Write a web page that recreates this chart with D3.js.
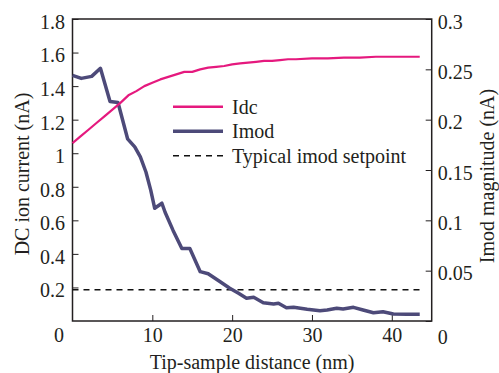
<!DOCTYPE html>
<html>
<head>
<meta charset="utf-8">
<script src="https://cdn.jsdelivr.net/npm/d3@7"></script>
<style>
  body { margin: 0; background: #fff; }
  text { font-family: "Liberation Serif", "Times New Roman", serif; fill: #231f20; }
</style>
</head>
<body>
<div id="chart"></div>
<script>
// --- DATA ---
const idcX   = [0, 1, 2, 3, 4, 5, 6, 7, 8, 9, 10, 11, 12, 13, 14, 15, 16, 17, 18, 19, 20, 21, 22, 23, 24, 25, 26, 27, 28, 30, 32, 34, 36, 38, 40, 42, 43.5];
const idcVal = [1.06, 1.10, 1.14, 1.18, 1.22, 1.26, 1.30, 1.345, 1.37, 1.40, 1.42, 1.44, 1.455, 1.47, 1.485, 1.485, 1.50, 1.51, 1.515, 1.52, 1.53, 1.535, 1.54, 1.545, 1.55, 1.55, 1.555, 1.56, 1.56, 1.565, 1.565, 1.57, 1.57, 1.575, 1.575, 1.575, 1.575];

const imodX   = [0, 1.1, 2.4, 3.5, 4.7, 5.7, 6.9, 7.8, 8.5, 9.2, 9.8, 10.3, 11.2, 11.6, 12.6, 13.7, 14.7, 16.0, 17.0, 18.5, 19.7, 20.8, 21.8, 22.7, 23.9, 25.2, 25.8, 26.8, 27.7, 29.4, 31, 31.9, 33.1, 33.9, 35.2, 36.4, 37.7, 38.9, 40.2, 41.9, 43.5];
const imodVal = [0.244, 0.241, 0.243, 0.251, 0.218, 0.217, 0.181, 0.173, 0.163, 0.148, 0.13, 0.112, 0.117, 0.108, 0.090, 0.072, 0.072, 0.049, 0.047, 0.039, 0.0325, 0.0275, 0.0226, 0.0235, 0.0182, 0.0169, 0.0176, 0.0132, 0.0136, 0.0116, 0.0102, 0.0109, 0.0126, 0.0119, 0.0136, 0.0109, 0.0082, 0.0092, 0.007, 0.0067, 0.0067];

const setpoint = 0.031;       // on Imod axis
const setpointX = [0, 43.5];

const xTicks     = [10, 20, 30, 40];
const leftTicks  = [0.2, 0.4, 0.6, 0.8, 1, 1.2, 1.4, 1.6, 1.8];
const rightTicks = [0, 0.05, 0.1, 0.15, 0.2, 0.25, 0.3];

const legendItems = ['Idc', 'Imod', 'Typical imod setpoint'];

// --- LAYOUT ---
const width = 499, height = 373;
const L = 72.5, R = 431.7, T = 19, B = 321;
const pink = '#e5197e', purple = '#4d4a79';

const svg = d3.select('#chart').append('svg')
  .attr('width', width)
  .attr('height', height);

const x  = d3.scaleLinear().domain([0, 45]).range([L, R]);
const yL = d3.scaleLinear().domain([0, 1.8]).range([B, T]);
const yR = d3.scaleLinear().domain([0, 0.3]).range([B, T]);

// axes (ticks pointing inward)
const gL = svg.append('g')
  .attr('transform', `translate(${L},0)`)
  .call(d3.axisLeft(yL).tickValues(leftTicks).tickSize(-6).tickPadding(7.5)
    .tickFormat(d3.format('')));
const gR = svg.append('g')
  .attr('transform', `translate(${R},0)`)
  .call(d3.axisRight(yR).tickValues(rightTicks).tickSize(-6).tickPadding(6)
    .tickFormat(d3.format('')));
const gB = svg.append('g')
  .attr('transform', `translate(0,${B})`)
  .call(d3.axisBottom(x).tickValues(xTicks).tickSize(-6).tickPadding(7)
    .tickFormat(d3.format('')));

[gL, gR, gB].forEach(g => {
  g.select('.domain').remove();
  g.selectAll('line').attr('stroke', '#231f20').attr('stroke-width', 1);
  g.selectAll('text').style('font-size', '20px').style('font-family', '"Liberation Serif", serif').attr('fill', '#231f20');
});
gL.selectAll('text').attr('dy', '0.47em');
gR.selectAll('text').attr('dy', '0.45em');
gR.selectAll('text').filter(d => d === 0).attr('dy', '1.1em');

// shared corner zero
svg.append('text')
  .attr('x', 59).attr('y', 342)
  .attr('text-anchor', 'middle')
  .style('font-size', '20px')
  .text('0');

// frame
svg.append('rect')
  .attr('x', L).attr('y', T)
  .attr('width', R - L).attr('height', B - T)
  .attr('fill', 'none')
  .attr('stroke', '#231f20')
  .attr('stroke-width', 1.5);

// setpoint line
svg.append('line')
  .attr('x1', x(setpointX[0])).attr('x2', x(setpointX[1]))
  .attr('y1', yR(setpoint)).attr('y2', yR(setpoint))
  .attr('stroke', '#111')
  .attr('stroke-width', 1.6)
  .attr('stroke-dasharray', '6,5');

// Imod line
const imodLine = d3.line().x(d => x(d[0])).y(d => yR(d[1]));
svg.append('path')
  .datum(d3.zip(imodX, imodVal))
  .attr('d', imodLine)
  .attr('fill', 'none')
  .attr('stroke', purple)
  .attr('stroke-width', 3.5)
  .attr('stroke-linejoin', 'round');

// Idc line
const idcLine = d3.line().x(d => x(d[0])).y(d => yL(d[1]));
svg.append('path')
  .datum(d3.zip(idcX, idcVal))
  .attr('d', idcLine)
  .attr('fill', 'none')
  .attr('stroke', pink)
  .attr('stroke-width', 2.2)
  .attr('stroke-linejoin', 'round');

// legend
const legStyles = [
  { color: pink,   w: 2.5, dash: null },
  { color: purple, w: 3.5, dash: null },
  { color: '#111', w: 1.6, dash: '6,5' }
];
const leg = svg.append('g');
legendItems.forEach((name, i) => {
  const cy = 106.7 + i * 24.5;
  leg.append('line')
    .attr('x1', 173).attr('x2', 223)
    .attr('y1', cy).attr('y2', cy)
    .attr('stroke', legStyles[i].color)
    .attr('stroke-width', legStyles[i].w)
    .attr('stroke-dasharray', legStyles[i].dash);
  leg.append('text')
    .attr('x', 232).attr('y', cy + 7)
    .style('font-size', '20px')
    .text(name);
});

// axis titles
svg.append('text')
  .attr('x', (L + R) / 2).attr('y', 369)
  .attr('text-anchor', 'middle')
  .style('font-size', '20px')
  .text('Tip-sample distance (nm)');

svg.append('text')
  .attr('transform', 'translate(29,174) rotate(-90)')
  .attr('text-anchor', 'middle')
  .style('font-size', '20px')
  .text('DC ion current (nA)');

svg.append('text')
  .attr('transform', 'translate(494,176) rotate(-90)')
  .attr('text-anchor', 'middle')
  .style('font-size', '20px')
  .text('Imod magnitude (nA)');
</script>
</body>
</html>
